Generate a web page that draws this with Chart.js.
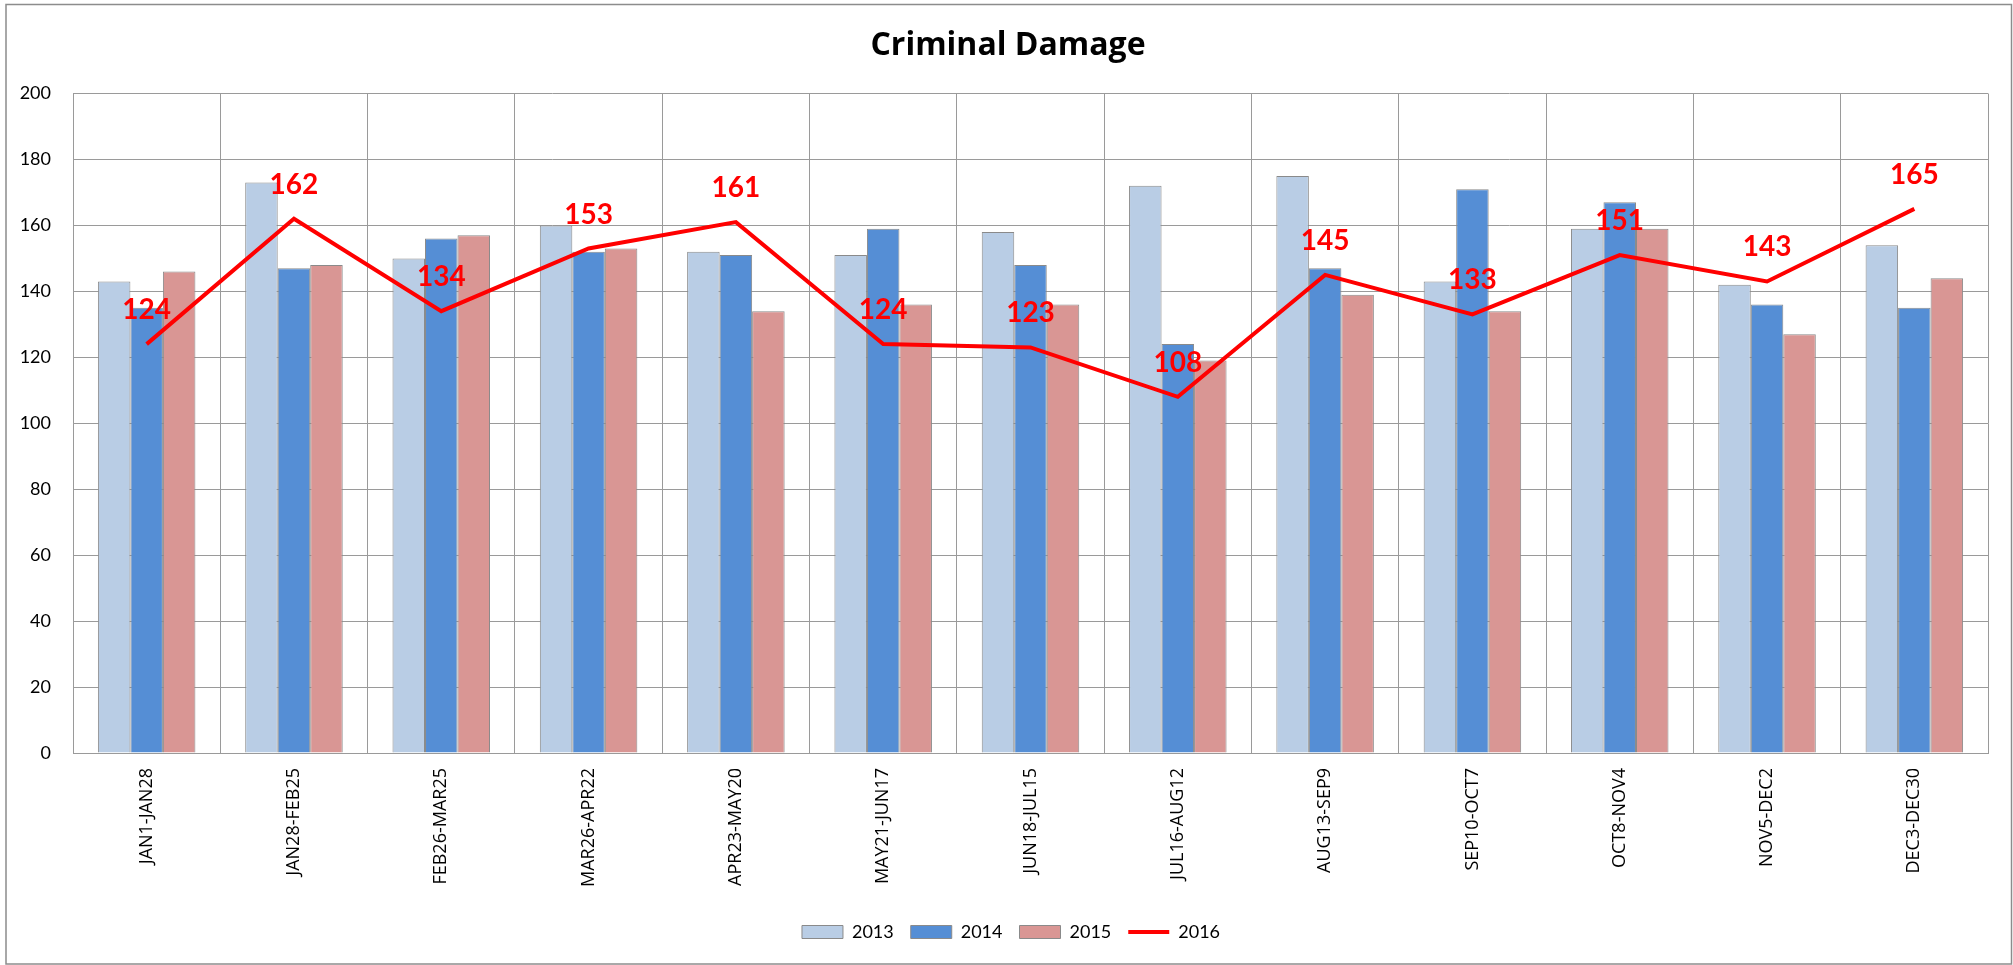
<!DOCTYPE html>
<html>
<head>
<meta charset="utf-8">
<title>Criminal Damage</title>
<script src="https://cdn.jsdelivr.net/npm/chart.js@4.4.1/dist/chart.umd.min.js"></script>
<style>
  html, body { margin: 0; padding: 0; background: #fff; }
  #wrap { width: 2013px; height: 965px; position: relative; }
</style>
</head>
<body>
<div id="wrap"><canvas id="chart" width="2013" height="965"></canvas></div>
<script>
// ===== data =====
const PERIODS = [
  "JAN1-JAN28", "JAN28-FEB25", "FEB26-MAR25", "MAR26-APR22", "APR23-MAY20",
  "MAY21-JUN17", "JUN18-JUL15", "JUL16-AUG12", "AUG13-SEP9", "SEP10-OCT7",
  "OCT8-NOV4", "NOV5-DEC2", "DEC3-DEC30"
];
const Y2013 = [143, 173, 150, 160, 152, 151, 158, 172, 175, 143, 159, 142, 154];
const Y2014 = [135, 147, 156, 152, 151, 159, 148, 124, 147, 171, 167, 136, 135];
const Y2015 = [146, 148, 157, 153, 134, 136, 136, 119, 139, 134, 159, 127, 144];
const Y2016 = [124, 162, 134, 153, 161, 124, 123, 108, 145, 133, 151, 143, 165];
const Y_TICKS = [0, 20, 40, 60, 80, 100, 120, 140, 160, 180, 200];

const GRID = "#9a9a9a";
const BAR_EDGE = "#8a8a8a";

// 外框 + 白底
const framePlugin = {
  id: "frame",
  beforeDraw(chart) {
    const { ctx, width, height } = chart;
    ctx.save();
    ctx.fillStyle = "#fff";
    ctx.fillRect(0, 0, width, height);
    ctx.strokeStyle = "#8c8c8c";
    ctx.lineWidth = 1.5;
    ctx.strokeRect(6, 4.5, 2005.5, 959.5);
    ctx.restore();
  }
};

// 2016 折线上方的红色数值
const lineLabelPlugin = {
  id: "lineLabels",
  afterDatasetsDraw(chart) {
    const meta = chart.getDatasetMeta(3);
    const { ctx } = chart;
    ctx.save();
    ctx.fillStyle = "#ff0000";
    ctx.font = "bold 28px Lato";
    ctx.textAlign = "center";
    ctx.textBaseline = "middle";
    meta.data.forEach((pt, i) => {
      ctx.fillText(String(Y2016[i]), pt.x, pt.y - 34);
    });
    ctx.restore();
  }
};

// 标题、图例按整张画布居中（右侧留白会把它们往左推）
const centerShift = {
  id: "centerShift",
  afterLayout(chart) {
    if (chart.legend) {
      chart.legend.left += 17;
      chart.legend.right += 17;
    }
    if (chart.titleBlock) {
      chart.titleBlock.left += 14;
      chart.titleBlock.right += 14;
    }
  }
};

const barSet = (label, data, color) => ({
  type: "bar",
  label,
  data,
  backgroundColor: color,
  borderColor: BAR_EDGE,
  borderWidth: 1,
  order: 1,
  categoryPercentage: 0.662,
  barPercentage: 1.0
});

const defaultLabels = Chart.defaults.plugins.legend.labels.generateLabels;

new Chart(document.getElementById("chart"), {
  data: {
    labels: PERIODS,
    datasets: [
      barSet("2013", Y2013, "#B9CDE5"),
      barSet("2014", Y2014, "#558ED5"),
      barSet("2015", Y2015, "#D99694"),
      {
        type: "line",
        label: "2016",
        data: Y2016,
        borderColor: "#ff0000",
        backgroundColor: "#ff0000",
        borderWidth: 4,
        pointRadius: 0,
        tension: 0,
        order: 0
      }
    ]
  },
  options: {
    responsive: false,
    animation: false,
    layout: { padding: { left: 0, right: 25, top: 0, bottom: 14 } },
    plugins: {
      title: {
        display: true,
        text: "Criminal Damage",
        color: "#000",
        font: { family: "Open Sans", size: 32, weight: "bold" },
        padding: { top: 26.3, bottom: 28.8 }
      },
      legend: {
        position: "bottom",
        labels: {
          color: "#000",
          font: { family: "Lato", size: 18 },
          usePointStyle: true,
          pointStyleWidth: 41,
          boxHeight: 13,
          padding: 17,
          sort: (a, b) => a.datasetIndex - b.datasetIndex,
          generateLabels(chart) {
            return defaultLabels(chart).map((it) => {
              it.pointStyle = it.datasetIndex === 3 ? "line" : "rect";
              return it;
            });
          }
        }
      },
      tooltip: { enabled: false }
    },
    scales: {
      x: {
        grid: { color: GRID, lineWidth: 1, drawTicks: false, offset: true },
        border: { color: GRID, width: 1 },
        ticks: {
          color: "#000",
          font: { family: "Open Sans", size: 18 },
          maxRotation: 90,
          minRotation: 90,
          autoSkip: false,
          padding: 15
        },
        afterFit(scale) { scale.height = 153; }
      },
      y: {
        min: 0,
        max: 200,
        grid: { color: GRID, lineWidth: 1, drawTicks: false },
        border: { color: GRID, width: 1 },
        ticks: {
          color: "#000",
          font: { family: "Lato", size: 18 },
          padding: 22,
          stepSize: 20
        },
        afterBuildTicks(scale) { scale.ticks = Y_TICKS.map((v) => ({ value: v })); },
        afterFit(scale) { scale.width = 73; }
      }
    }
  },
  plugins: [framePlugin, lineLabelPlugin, centerShift]
});
</script>
</body>
</html>
